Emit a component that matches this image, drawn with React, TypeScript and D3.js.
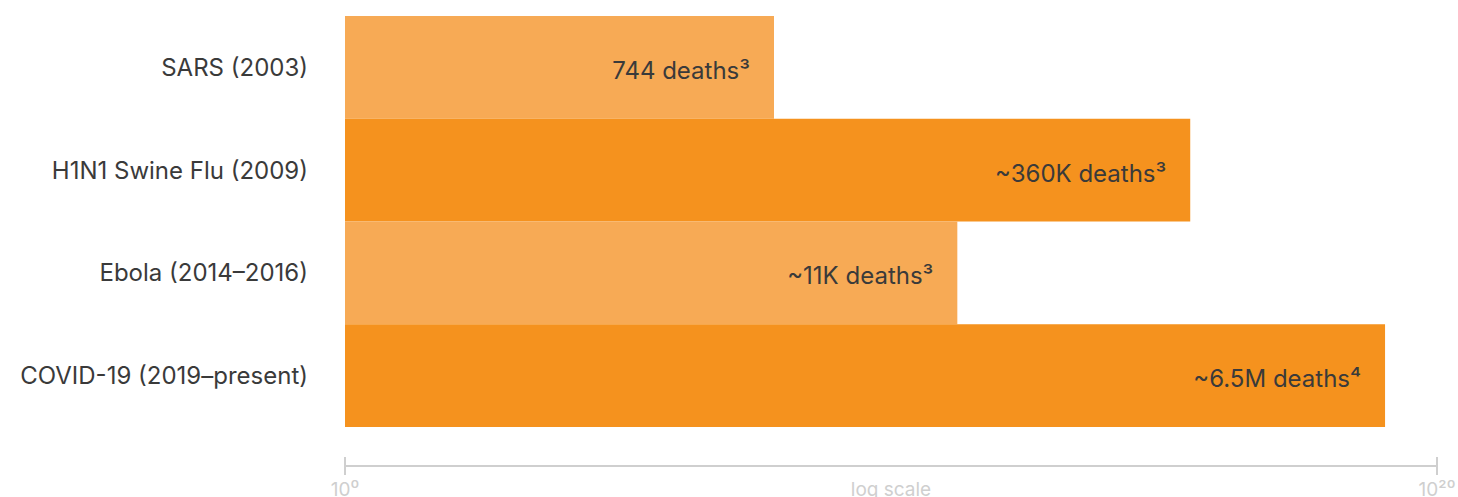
import React, { useEffect } from "react";
import * as d3 from "d3";

const categories = ["SARS (2003)", "H1N1 Swine Flu (2009)", "Ebola (2014–2016)", "COVID-19 (2019–present)"];
const deaths = [744, 360000, 11325, 6500000];
const valueLabels = ["744 deaths³", "~360K deaths³", "~11K deaths³", "~6.5M deaths⁴"];
const barColors = ["#F7AA55", "#F5921E", "#F7AA55", "#F5921E"];
const axisTickLabels = ["10⁰", "10²⁰"];
const axisTitle = "log scale";

const W = 1458;
const H = 497;

export default function App() {
  useEffect(() => {
    document.body.style.margin = "0";
  }, []);

  const x = d3.scaleLog().domain([1.272, 1.406e7]).range([345, 1437]);
  const y = d3.scaleBand<string>().domain(categories).range([16, 427]).padding(0);
  const font = "Inter, 'Noto Sans', sans-serif";
  const [x0, x1] = x.range();
  const axisY = 466;

  return (
    <svg width={W} height={H} style={{ display: "block", fontFamily: font }}>
      {categories.map((c, i) => {
        const yy = y(c)!;
        const bw = y.bandwidth();
        const xe = x(deaths[i]);
        return (
          <g key={c}>
            <rect x={x0} y={yy} width={xe - x0} height={bw} fill={barColors[i]} />
            <text x={308} y={yy + bw / 2} dy="0.35em" textAnchor="end" fontSize={24} fill="#3a3a3a">
              {c}
            </text>
            <text x={xe - 24} y={yy + bw / 2 + 3} dy="0.35em" textAnchor="end" fontSize={24} fill="#3a3a3a">
              {valueLabels[i]}
            </text>
          </g>
        );
      })}
      <g stroke="#cfcfcf" strokeWidth={2}>
        <line x1={x0} x2={x1} y1={axisY} y2={axisY} />
        <line x1={x0} x2={x0} y1={axisY - 9} y2={axisY + 9} />
        <line x1={x1} x2={x1} y1={axisY - 9} y2={axisY + 9} />
      </g>
      <text x={x0} y={496} textAnchor="middle" fontSize={19} fill="#cfcfcf">{axisTickLabels[0]}</text>
      <text x={x1} y={496} textAnchor="middle" fontSize={19} fill="#cfcfcf">{axisTickLabels[1]}</text>
      <text x={(x0 + x1) / 2} y={496} textAnchor="middle" fontSize={19} fill="#cfcfcf">{axisTitle}</text>
    </svg>
  );
}
